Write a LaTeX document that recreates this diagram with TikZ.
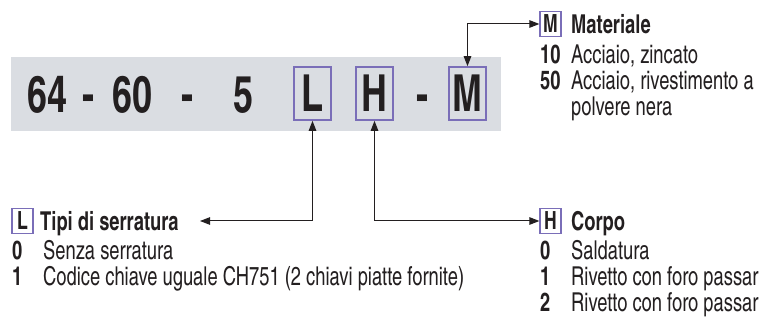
\documentclass[tikz,border=0pt]{standalone}
\usepackage{fontspec}
\setmainfont{texgyreheroscn}[Extension=.otf,UprightFont=*-regular,BoldFont=*-bold,ItalicFont=*-italic,BoldItalicFont=*-bolditalic,FakeStretch=0.86]
\usetikzlibrary{arrows.meta}
\definecolor{band}{RGB}{218,221,226}
\definecolor{boxc}{RGB}{122,110,184}
\definecolor{ink}{RGB}{35,31,32}
\tikzset{
 big/.style={font=\fontsize{51}{51}\selectfont\bfseries, text=ink, inner sep=0, anchor=base},
 bigbox/.style={draw=boxc, line width=1.6pt, minimum width=37pt, minimum height=53pt, inner sep=0, font=\fontsize{51}{51}\selectfont\bfseries, text=ink},
 smallbox/.style={draw=boxc, line width=1.2pt, minimum width=21pt, minimum height=25pt, inner sep=0, font=\fontsize{25}{25}\selectfont\bfseries, text=ink},
 num/.style={font=\fontsize{26}{26}\selectfont\bfseries, text=ink, inner sep=0, anchor=base west},
 desc/.style={font=\fontsize{26}{26}\selectfont, text=ink, inner sep=0, anchor=base west},
 ttl/.style={font=\fontsize{26}{26}\selectfont\bfseries, text=ink, inner sep=0, anchor=base west},
 conn/.style={line width=1pt, draw=ink, {Triangle[length=10pt,width=7.5pt]}-{Triangle[length=10pt,width=7.5pt]}},
}
\begin{document}
\begin{tikzpicture}[x=1pt,y=-1pt]
\useasboundingbox (0,0) rectangle (762,320);
\clip (0,0) rectangle (762,320);
\fill[band] (11,57) rectangle (501,131);
% big code
\node[big] (n64) at (47.5,113) {64};
\node[big] (d1) at (88.5,113) {-};
\node[big] (n60) at (132,113) {60};
\node[big] (d2) at (187.5,113) {-};
\node[big] (n5) at (243,113) {5};
\node[bigbox] (bL) at (312.5,93.5) {L};
\node[bigbox] (bH) at (374.5,93.5) {H};
\node[big] (d3) at (422,113) {-};
\node[bigbox] (bM) at (467.5,93.5) {M};
% Materiale
\node[smallbox] (sM) at (550.5,24) {M};
\node[ttl] (tM) at (571,33.5) {Materiale};
\node[num] (m10) at (540,63.5) {10};
\node[desc] (m10d) at (571,63.5) {Acciaio, zincato};
\node[num] (m50) at (540,89.5) {50};
\node[desc] (m50d) at (571,89.5) {Acciaio, rivestimento a};
\node[desc] (m50e) at (571,115.5) {polvere nera};
% Tipi di serratura
\node[smallbox] (sL) at (22.5,221) {L};
\node[ttl] (tL) at (40,231) {Tipi di serratura};
\node[num] (l0) at (12,259.5) {0};
\node[desc] (l0d) at (43,259.5) {Senza serratura};
\node[num] (l1) at (12,285.5) {1};
\node[desc] (l1d) at (43,285.5) {Codice chiave uguale CH751 (2 chiavi piatte fornite)};
% Corpo
\node[smallbox] (sH) at (550.5,221) {H};
\node[ttl] (tH) at (571,231) {Corpo};
\node[num] (h0) at (540,259.5) {0};
\node[desc] (h0d) at (571,259.5) {Saldatura};
\node[num] (h1) at (540,285.5) {1};
\node[desc] (h1d) at (571,285.5) {Rivetto con foro passar};
\node[num] (h2) at (540,311.5) {2};
\node[desc] (h2d) at (571,311.5) {Rivetto con foro passar};
% connectors
\coordinate (lend) at (200,221);
\draw[conn] (bM.north) |- (sM.west);
\draw[conn] (bL.south) |- (lend);
\draw[conn] (bH.south) |- (sH.west);
\end{tikzpicture}
\end{document}
